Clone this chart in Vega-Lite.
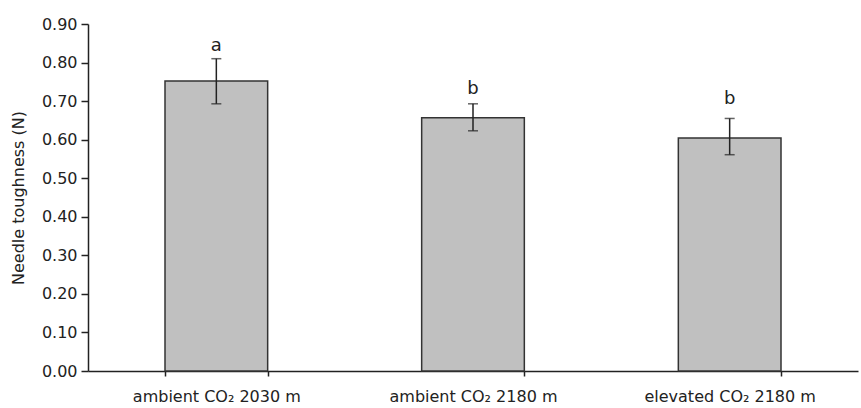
{
  "$schema": "https://vega.github.io/schema/vega-lite/v6.json",
  "autosize": "none",
  "width": 770,
  "height": 347,
  "padding": {"left": 88, "top": 24, "right": 3, "bottom": 37},
  "background": "white",
  "config": {
    "view": {"stroke": null},
    "font": "DejaVu Sans",
    "axis": {"domainColor": "#222", "tickColor": "#222", "labelColor": "#222", "titleColor": "#222", "grid": false, "labelFont": "DejaVu Sans", "titleFont": "DejaVu Sans", "titleFontWeight": "normal"}
  },
  "data": {
    "values": [
      {"group": "ambient CO₂ 2030 m", "mean": 0.752, "lo": 0.693, "hi": 0.810, "letter": "a", "letterY": 0.830},
      {"group": "ambient CO₂ 2180 m", "mean": 0.657, "lo": 0.623, "hi": 0.693, "letter": "b", "letterY": 0.718},
      {"group": "elevated CO₂ 2180 m", "mean": 0.604, "lo": 0.561, "hi": 0.655, "letter": "b", "letterY": 0.693}
    ]
  },
  "encoding": {
    "x": {
      "field": "group", "type": "nominal", "sort": null,
      "scale": {"paddingInner": 0.6, "paddingOuter": 0.3},
      "axis": {"title": null, "labelAngle": 0, "labelFontSize": 16, "labelPadding": 12, "tickSize": 5, "tickBand": "extent", "domainWidth": 1.5, "tickWidth": 1.5}
    }
  },
  "layer": [
    {
      "mark": {"type": "bar", "fill": "#c0c0c0", "stroke": "#333", "strokeWidth": 1.5},
      "encoding": {
        "y": {
          "field": "mean", "type": "quantitative",
          "scale": {"domain": [0, 0.9], "nice": false},
          "axis": {"title": "Needle toughness (N)", "values": [0, 0.1, 0.2, 0.3, 0.4, 0.5, 0.6, 0.7, 0.8, 0.9], "format": ".2f", "labelFontSize": 16, "titleFontSize": 16, "tickSize": 7, "labelPadding": 4, "domainWidth": 1.5, "tickWidth": 1.5, "titleX": -70, "titleBaseline": "middle", "labelOverlap": false}
        }
      }
    },
    {
      "mark": {"type": "rule", "color": "#222", "strokeWidth": 1.5},
      "encoding": {
        "y": {"field": "lo", "type": "quantitative", "axis": {"title": "Needle toughness (N)", "values": [0, 0.1, 0.2, 0.3, 0.4, 0.5, 0.6, 0.7, 0.8, 0.9], "format": ".2f", "labelFontSize": 16, "titleFontSize": 16, "tickSize": 7, "labelPadding": 4, "domainWidth": 1.5, "tickWidth": 1.5, "titleX": -70, "titleBaseline": "middle", "labelOverlap": false}},
        "y2": {"field": "hi"}
      }
    },
    {
      "mark": {"type": "tick", "color": "#222", "size": 10, "thickness": 1.5},
      "encoding": {"y": {"field": "lo", "type": "quantitative", "axis": {"title": "Needle toughness (N)", "values": [0, 0.1, 0.2, 0.3, 0.4, 0.5, 0.6, 0.7, 0.8, 0.9], "format": ".2f", "labelFontSize": 16, "titleFontSize": 16, "tickSize": 7, "labelPadding": 4, "domainWidth": 1.5, "tickWidth": 1.5, "titleX": -70, "titleBaseline": "middle", "labelOverlap": false}}}
    },
    {
      "mark": {"type": "tick", "color": "#222", "size": 10, "thickness": 1.5},
      "encoding": {"y": {"field": "hi", "type": "quantitative", "axis": {"title": "Needle toughness (N)", "values": [0, 0.1, 0.2, 0.3, 0.4, 0.5, 0.6, 0.7, 0.8, 0.9], "format": ".2f", "labelFontSize": 16, "titleFontSize": 16, "tickSize": 7, "labelPadding": 4, "domainWidth": 1.5, "tickWidth": 1.5, "titleX": -70, "titleBaseline": "middle", "labelOverlap": false}}}
    },
    {
      "mark": {"type": "text", "fontSize": 18, "baseline": "alphabetic", "color": "#222"},
      "encoding": {"y": {"field": "letterY", "type": "quantitative", "axis": {"title": "Needle toughness (N)", "values": [0, 0.1, 0.2, 0.3, 0.4, 0.5, 0.6, 0.7, 0.8, 0.9], "format": ".2f", "labelFontSize": 16, "titleFontSize": 16, "tickSize": 7, "labelPadding": 4, "domainWidth": 1.5, "tickWidth": 1.5, "titleX": -70, "titleBaseline": "middle", "labelOverlap": false}}, "text": {"field": "letter"}}
    }
  ]
}
